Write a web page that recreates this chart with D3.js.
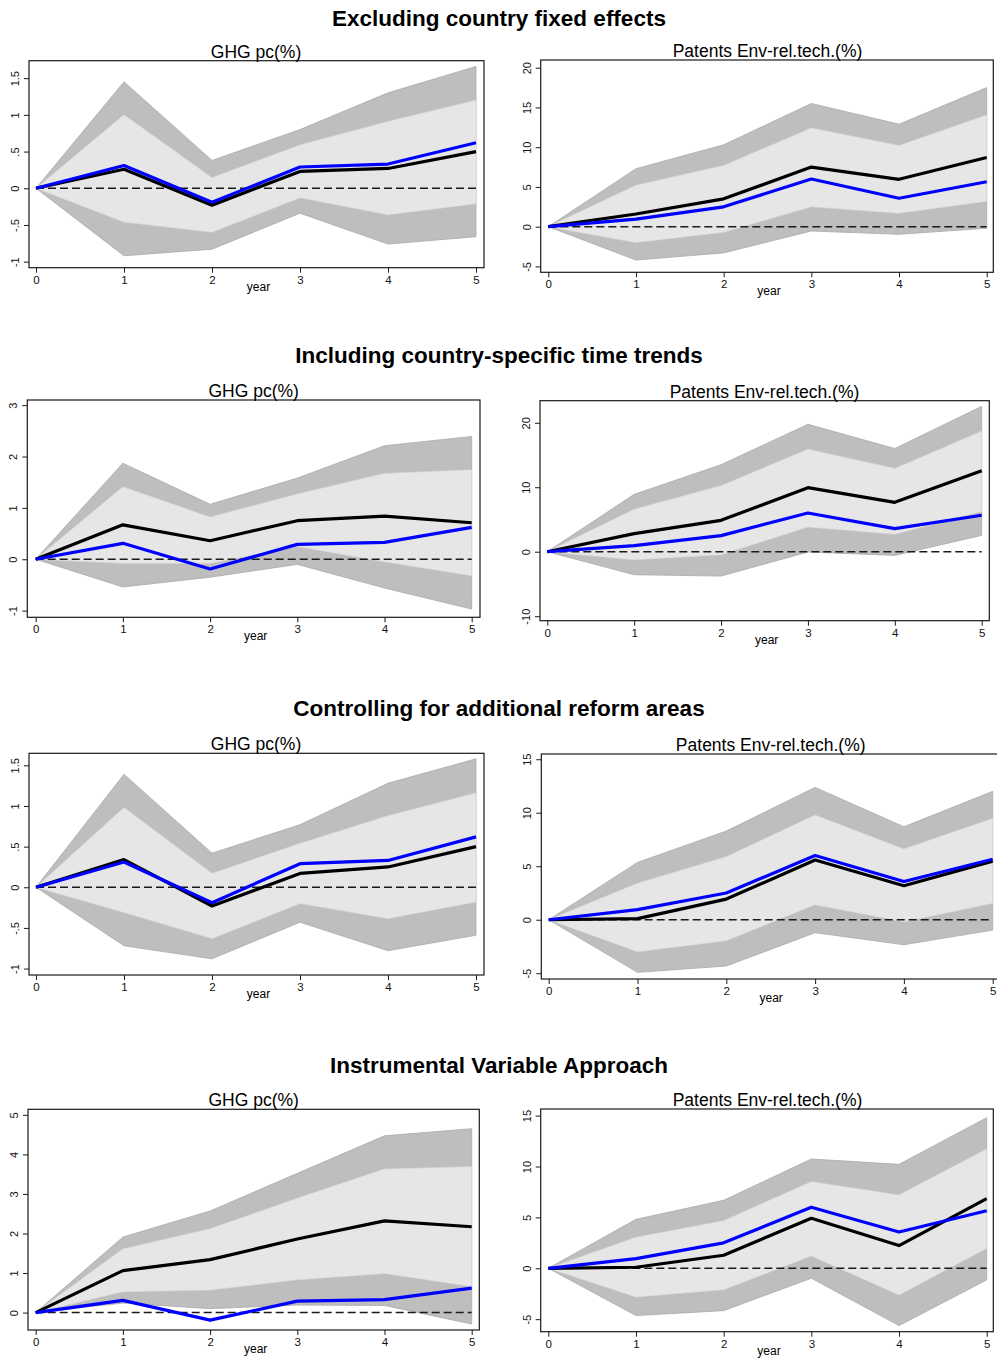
<!DOCTYPE html>
<html>
<head>
<meta charset="utf-8">
<script src="https://cdn.jsdelivr.net/npm/d3@7"></script>
<style>
  body { margin: 0; background: #fff; }
  text { font-family: "Liberation Sans", Arial, sans-serif; }
</style>
</head>
<body>
<script>
// horizon (years after reform)
var years = [0, 1, 2, 3, 4, 5];

var sectionTitles = [
  "Excluding country fixed effects",
  "Including country-specific time trends",
  "Controlling for additional reform areas",
  "Instrumental Variable Approach"
];
var ghgTitle = "GHG pc(%)";
var patTitle = "Patents Env-rel.tech.(%)";

// baseline estimates (blue), same in every panel of a column
var ghgBase = [0, 0.31, -0.19, 0.29, 0.33, 0.62];
var patBase = [0, 0.95, 2.5, 6.0, 3.57, 5.65];

// 1. excluding country fixed effects
var ghgFeEst     = [0, 0.26, -0.23, 0.23, 0.27, 0.50];
var ghgFeOuterHi = [0, 1.45, 0.38, 0.80, 1.30, 1.66];
var ghgFeInnerHi = [0, 1.00, 0.145, 0.59, 0.91, 1.20];
var ghgFeInnerLo = [0, -0.46, -0.60, -0.13, -0.36, -0.21];
var ghgFeOuterLo = [0, -0.92, -0.83, -0.34, -0.76, -0.66];

var patFeEst     = [0, 1.6, 3.5, 7.5, 5.96, 8.7];
var patFeOuterHi = [0, 7.3, 10.3, 15.5, 12.9, 17.5];
var patFeInnerHi = [0, 5.2, 7.7, 12.4, 10.2, 14.05];
var patFeInnerLo = [0, -2.0, -0.7, 2.5, 1.7, 3.2];
var patFeOuterLo = [0, -4.2, -3.3, -0.55, -0.96, -0.2];

// 2. country-specific time trends
var ghgTrEst     = [0, 0.67, 0.36, 0.75, 0.84, 0.71];
var ghgTrOuterHi = [0, 1.87, 1.07, 1.58, 2.21, 2.39];
var ghgTrInnerHi = [0, 1.41, 0.82, 1.27, 1.67, 1.74];
var ghgTrInnerLo = [0, -0.08, -0.08, 0.25, -0.05, -0.32];
var ghgTrOuterLo = [0, -0.54, -0.35, -0.10, -0.56, -0.97];

var patTrEst     = [0, 2.8, 4.86, 9.93, 7.66, 12.57];
var patTrOuterHi = [0, 8.9, 13.5, 19.76, 16.0, 22.55];
var patTrInnerHi = [0, 6.57, 10.24, 15.9, 12.9, 18.7];
var patTrInnerLo = [0, -1.24, -0.47, 3.83, 2.7, 6.26];
var patTrOuterLo = [0, -3.57, -3.78, -0.05, -0.57, 2.53];

// 3. additional reform areas
var ghgRfEst     = [0, 0.34, -0.23, 0.17, 0.25, 0.50];
var ghgRfOuterHi = [0, 1.39, 0.42, 0.77, 1.28, 1.58];
var ghgRfInnerHi = [0, 0.98, 0.17, 0.54, 0.88, 1.16];
var ghgRfInnerLo = [0, -0.31, -0.63, -0.20, -0.385, -0.18];
var ghgRfOuterLo = [0, -0.72, -0.88, -0.43, -0.78, -0.59];

var patRfEst     = [0, 0.1, 1.93, 5.58, 3.18, 5.48];
var patRfOuterHi = [0, 5.36, 8.29, 12.37, 8.69, 12.0];
var patRfInnerHi = [0, 3.4, 5.89, 9.78, 6.6, 9.47];
var patRfInnerLo = [0, -2.99, -1.96, 1.4, -0.19, 1.53];
var patRfOuterLo = [0, -4.92, -4.33, -1.21, -2.34, -0.97];

// 4. instrumental variable
var ghgIvEst     = [0, 1.06, 1.34, 1.86, 2.32, 2.17];
var ghgIvOuterHi = [0, 1.91, 2.57, 3.52, 4.47, 4.65];
var ghgIvInnerHi = [0, 1.61, 2.12, 2.89, 3.63, 3.69];
var ghgIvInnerLo = [0, 0.53, 0.57, 0.83, 0.99, 0.66];
var ghgIvOuterLo = [0, 0.24, 0.10, 0.19, 0.18, -0.29];

var patIvEst     = [0, 0.1, 1.28, 4.91, 2.23, 6.84];
var patIvOuterHi = [0, 4.81, 6.68, 10.74, 10.21, 14.8];
var patIvInnerHi = [0, 3.04, 4.68, 8.51, 7.2, 11.72];
var patIvInnerLo = [0, -2.82, -2.1, 1.21, -2.62, 1.96];
var patIvOuterLo = [0, -4.65, -4.16, -0.98, -5.63, -1.15];

// y ticks
var ghgTicksA = [-1, -0.5, 0, 0.5, 1, 1.5];
var ghgTicksB = [-1, 0, 1, 2, 3];
var ghgTicksC = [0, 1, 2, 3, 4, 5];
var patTicksA = [-5, 0, 5, 10, 15, 20];
var patTicksB = [-10, 0, 10, 20];
var patTicksC = [-5, 0, 5, 10, 15];

// stata style labels: .5 and -.5
function stataFmt(v) {
  var s = String(v);
  return s.replace(/^0\./, ".").replace(/^-0\./, "-.");
}

var svg = d3.select("body").append("svg")
  .attr("width", 997)
  .attr("height", 1360);

var sectionY = [26, 363, 716, 1073];

svg.selectAll("text.section")
  .data(sectionTitles)
  .enter()
  .append("text")
  .attr("class", "section")
  .attr("x", 499)
  .attr("y", function (d, i) { return sectionY[i]; })
  .attr("text-anchor", "middle")
  .attr("font-size", "22.5px")
  .attr("font-weight", "bold")
  .text(function (d) { return d; });

// panel boxes: l, t, r, b, x0px, x5px, y domain at bottom/top edge
var panels = [
  { title: ghgTitle, est: ghgFeEst, base: ghgBase, oh: ghgFeOuterHi, ih: ghgFeInnerHi, il: ghgFeInnerLo, ol: ghgFeOuterLo,
    ticks: ghgTicksA, box: [29, 60.7, 484, 267.7], xr: [36, 476], yd: [-1.082, 1.738] },
  { title: patTitle, est: patFeEst, base: patBase, oh: patFeOuterHi, ih: patFeInnerHi, il: patFeInnerLo, ol: patFeOuterLo,
    ticks: patTicksA, box: [540.7, 60, 993.3, 272.3], xr: [548.3, 986.7], yd: [-5.74, 20.97] },
  { title: ghgTitle, est: ghgTrEst, base: ghgBase, oh: ghgTrOuterHi, ih: ghgTrInnerHi, il: ghgTrInnerLo, ol: ghgTrOuterLo,
    ticks: ghgTicksB, box: [27.3, 400, 480, 617.3], xr: [35.7, 471.7], yd: [-1.13, 3.10] },
  { title: patTitle, est: patTrEst, base: patBase, oh: patTrOuterHi, ih: patTrInnerHi, il: patTrInnerLo, ol: patTrOuterLo,
    ticks: patTicksB, box: [540, 400.7, 989.3, 620.7], xr: [547.3, 981.7], yd: [-10.70, 23.42] },
  { title: ghgTitle, est: ghgRfEst, base: ghgBase, oh: ghgRfOuterHi, ih: ghgRfInnerHi, il: ghgRfInnerLo, ol: ghgRfOuterLo,
    ticks: ghgTicksA, box: [29, 753.3, 484, 975], xr: [36, 476], yd: [-1.079, 1.648] },
  { title: patTitle, est: patRfEst, base: patBase, oh: patRfOuterHi, ih: patRfInnerHi, il: patRfInnerLo, ol: patRfOuterLo,
    ticks: patTicksC, box: [541.3, 754, 1001, 979], xr: [548.7, 992.7], yd: [-5.54, 15.49] },
  { title: ghgTitle, est: ghgIvEst, base: ghgBase, oh: ghgIvOuterHi, ih: ghgIvInnerHi, il: ghgIvInnerLo, ol: ghgIvOuterLo,
    ticks: ghgTicksC, box: [28, 1109.3, 479.3, 1330], xr: [35.7, 471.7], yd: [-0.44, 5.14] },
  { title: patTitle, est: patIvEst, base: patBase, oh: patIvOuterHi, ih: patIvInnerHi, il: patIvInnerLo, ol: patIvOuterLo,
    ticks: patTicksC, box: [540.7, 1109, 993.3, 1331.7], xr: [548.3, 986.7], yd: [-6.23, 15.65] }
];

panels.forEach(drawPanel);

function drawPanel(p) {
  var l = p.box[0], t = p.box[1], r = p.box[2], b = p.box[3];
  var x = d3.scaleLinear().domain([0, 5]).range(p.xr);
  var y = d3.scaleLinear().domain(p.yd).range([b, t]);
  var g = svg.append("g");

  var band = function (lo, hi) {
    return d3.area()
      .x(function (d, i) { return x(years[i]); })
      .y0(function (d, i) { return y(lo[i]); })
      .y1(function (d, i) { return y(hi[i]); })(years);
  };
  var line = d3.line()
    .x(function (d, i) { return x(years[i]); })
    .y(function (d) { return y(d); });

  g.append("path").attr("d", band(p.ol, p.oh))
    .attr("fill", "#bebebe").attr("stroke", "#a9a9a9").attr("stroke-width", 0.8);
  g.append("path").attr("d", band(p.il, p.ih))
    .attr("fill", "#e6e6e6").attr("stroke", "#dadada").attr("stroke-width", 0.6);

  g.append("line")
    .attr("x1", x(0)).attr("x2", x(5))
    .attr("y1", y(0)).attr("y2", y(0))
    .attr("stroke", "#1a1a1a").attr("stroke-width", 1.5)
    .attr("stroke-dasharray", "8,4");

  g.append("path").attr("d", line(p.est))
    .attr("fill", "none").attr("stroke", "#000").attr("stroke-width", 3.2)
    .attr("stroke-linejoin", "round");
  g.append("path").attr("d", line(p.base))
    .attr("fill", "none").attr("stroke", "#0000ff").attr("stroke-width", 3.2)
    .attr("stroke-linejoin", "round");

  g.append("rect")
    .attr("x", l).attr("y", t).attr("width", r - l).attr("height", b - t)
    .attr("fill", "none").attr("stroke", "#1a1a1a").attr("stroke-width", 1.2);

  // y axis
  var ya = g.append("g").attr("transform", "translate(" + l + ",0)")
    .call(d3.axisLeft(y).tickValues(p.ticks).tickSize(5).tickFormat(stataFmt));
  ya.select(".domain").remove();
  ya.selectAll("line").attr("stroke", "#1a1a1a").attr("stroke-width", 1);
  ya.selectAll("text")
    .attr("x", 0).attr("dy", null).attr("y", 0)
    .attr("text-anchor", "middle")
    .attr("font-size", "11px")
    .attr("fill", "#111")
    .attr("transform", "translate(-10,0) rotate(-90)");

  // x axis
  var xa = g.append("g").attr("transform", "translate(0," + b + ")")
    .call(d3.axisBottom(x).tickValues(years).tickSize(5).tickFormat(d3.format("d")));
  xa.select(".domain").remove();
  xa.selectAll("line").attr("stroke", "#1a1a1a").attr("stroke-width", 1);
  xa.selectAll("text")
    .attr("y", 8).attr("dy", "0.71em")
    .attr("font-size", "11.5px").attr("fill", "#111");

  g.append("text")
    .attr("x", (l + Math.min(r, 997)) / 2 + 2)
    .attr("y", b + 23)
    .attr("text-anchor", "middle")
    .attr("font-size", "12px")
    .text("year");

  g.append("text")
    .attr("x", (p.xr[0] + p.xr[1]) / 2)
    .attr("y", t - 3)
    .attr("text-anchor", "middle")
    .attr("font-size", "17.5px")
    .text(p.title);
}
</script>
</body>
</html>
